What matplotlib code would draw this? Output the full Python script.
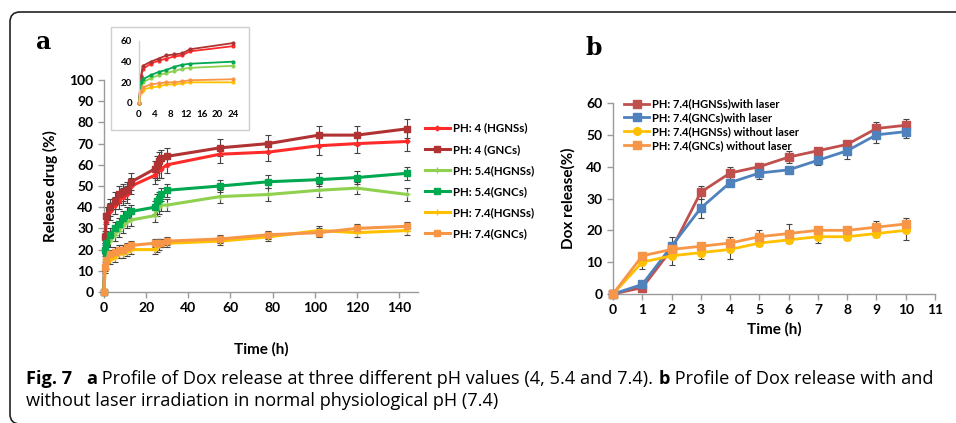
import matplotlib
matplotlib.use('Agg')
import matplotlib.pyplot as plt
from matplotlib.patches import FancyBboxPatch, Rectangle

plt.rcParams['font.family'] = ['Lato', 'DejaVu Sans']
plt.rcParams['font.weight'] = 'bold'

# ---- panel a: release at three pH values ----
tiempo_a = [0, 0.5, 1, 3, 5, 7, 9, 11, 13, 24, 25, 26, 27, 30, 55, 78, 102, 120, 144]
ph4_hgns = [0, 25, 33, 38, 41, 43, 45, 46, 50, 55, 57, 58, 58, 60, 65, 66, 69, 70, 71]
ph4_gnc = [0, 26, 36, 40, 43, 46, 47, 48, 52, 58, 60, 62, 63, 64, 68, 70, 74, 74, 77]
ph54_hgns = [0, 15, 20, 24, 27, 29, 31, 33, 34, 36, 39, 40, 41, 41, 45, 46, 48, 49, 46]
ph54_gnc = [0, 20, 23, 27, 30, 32, 35, 37, 38, 40, 43, 44, 46, 48, 50, 52, 53, 54, 56]
ph74_hgns = [0, 11, 13, 15, 16, 18, 18, 19, 20, 20, 21, 22, 23, 23, 24, 26, 29, 28, 29]
ph74_gnc = [0, 12, 15, 18, 19, 20, 20, 21, 22, 23, 23, 23, 23, 24, 25, 27, 28, 30, 31]
err_ph4 = [0, 3, 4, 4, 4, 4, 4, 4, 4, 4, 4, 4, 4, 4, 4, 4, 4.5, 4.5, 4.5]
err_ph54 = [0, 3, 3, 3, 3, 3, 3, 3, 3, 3, 3, 3, 3, 3, 3, 3, 3, 3, 3]
err_ph74 = [0, 2, 2, 2, 2, 2, 2, 2, 2, 2, 2, 2, 2, 2, 2, 2, 2, 2, 2]

# ---- panel b: with / without laser at pH 7.4 ----
tiempo_b = [0, 1, 2, 3, 4, 5, 6, 7, 8, 9, 10]
hgns_laser = [0, 2, 14, 32, 38, 40, 43, 45, 47, 52, 53]
gnc_laser = [0, 3, 15, 27, 35, 38, 39, 42, 45, 50, 51]
hgns_sin = [0, 10, 12, 13, 14, 16, 17, 18, 18, 19, 20]
gnc_sin = [0, 12, 14, 15, 16, 18, 19, 20, 20, 21, 22]
err_hgns_laser = [0, 1, 2, 2, 2, 1, 2, 1, 1, 2, 2]
err_gnc_laser = [0, 1, 3, 3, 1, 2, 1, 1.5, 2.5, 2.5, 2]
err_hgns_sin = [0, 2, 3, 2, 3, 1, 1, 2, 1, 1, 3]
err_gnc_sin = [0, 1, 1, 1, 2, 2, 3, 1, 1, 2, 2]

W, H = 956, 423
fig = plt.figure(figsize=(W / 100, H / 100), dpi=100)


def px(x0, y0, x1, y1):
    # caja en pixeles (origen arriba a la izquierda) -> fracciones de figura
    return [x0 / W, 1 - y1 / H, (x1 - x0) / W, (y1 - y0) / H]


def estilo(ax):
    for s in ['top', 'right']:
        ax.spines[s].set_visible(False)
    for s in ['left', 'bottom']:
        ax.spines[s].set_color('#9a9a9a')
        ax.spines[s].set_linewidth(1)
    ax.tick_params(colors='#9a9a9a', labelcolor='black', length=4, width=1)
    for lab in ax.get_xticklabels() + ax.get_yticklabels():
        lab.set_fontweight('bold')


# marco redondeado
marco = FancyBboxPatch((10, -1), 1000, 412, boxstyle='round,pad=0,rounding_size=10',
                       transform=None, fill=False, edgecolor='#222222', linewidth=1.2)
fig.patches.append(marco)

series_a = [
    ('PH: 4 (HGNSs)', ph4_hgns, err_ph4, '#ff2a2a', 'D', 2.5),
    ('PH: 4 (GNCs)', ph4_gnc, err_ph4, '#b03232', 's', 5),
    ('PH: 5.4(HGNSs)', ph54_hgns, err_ph54, '#8fd14f', '+', 4),
    ('PH: 5.4(GNCs)', ph54_gnc, err_ph54, '#00a84f', 's', 5),
    ('PH: 7.4(HGNSs)', ph74_hgns, err_ph74, '#ffc000', '+', 4),
    ('PH: 7.4(GNCs)', ph74_gnc, err_ph74, '#f79646', 's', 5),
]

ax = fig.add_axes(px(104, 80, 418, 292))
handles = []
for nombre, vals, err, col, mk, ms in series_a:
    ax.errorbar(tiempo_a, vals, yerr=err, fmt='none', ecolor='#444444',
                elinewidth=0.8, capsize=2.5, capthick=0.8, zorder=2, clip_on=False)
    h, = ax.plot(tiempo_a, vals, color=col, lw=2.2, marker=mk, ms=ms,
                 mec=col, mfc=col, zorder=3, clip_on=False)
    handles.append(h)
ax.set_xlim(0, 149)
ax.set_ylim(0, 100)
ax.set_xticks(range(0, 141, 20))
ax.set_yticks(range(0, 101, 10))
ax.tick_params(labelsize=10)
estilo(ax)
ax.set_xlabel('Time (h)', fontsize=11, fontweight='bold', labelpad=20)
ax.set_ylabel('Release drug (%)', fontsize=11, fontweight='bold', labelpad=8)
fig.legend(handles, [s[0] for s in series_a], loc='upper left',
           bbox_to_anchor=(420 / W, 1 - 118 / H), frameon=False,
           prop={'weight': 'bold', 'size': 8.3}, handlelength=2.2,
           handletextpad=0.3, labelspacing=0.88, borderaxespad=0)

# recuadro del inset
fig.patches.append(Rectangle((111 / W, 1 - 130 / H), 138 / W, 103 / H,
                             transform=fig.transFigure, fill=False,
                             edgecolor='#cfcfcf', linewidth=1))
ins = fig.add_axes(px(139, 41, 233, 103))
n24 = tiempo_a.index(24) + 1
for nombre, vals, err, col, mk, ms in series_a:
    ins.plot(tiempo_a[:n24], vals[:n24], color=col, lw=1.3, marker='o', ms=2,
             clip_on=False)
ins.set_xlim(0, 24)
ins.set_ylim(0, 60)
ins.set_xticks(range(0, 25, 4))
ins.set_yticks(range(0, 61, 20))
estilo(ins)
ins.spines['bottom'].set_visible(False)
ins.spines['left'].set_color('#d0d0d0')
ins.tick_params(length=0, labelsize=7, pad=5)

# ---- panel b ----
series_b = [
    ('PH: 7.4(HGNSs)with laser', hgns_laser, err_hgns_laser, '#c0504d', 's'),
    ('PH: 7.4(GNCs)with laser', gnc_laser, err_gnc_laser, '#4f81bd', 's'),
    ('PH: 7.4(HGNSs) without laser', hgns_sin, err_hgns_sin, '#ffc000', 'o'),
    ('PH: 7.4(GNCs) without laser', gnc_sin, err_gnc_sin, '#f79646', 's'),
]
bx = fig.add_axes(px(613, 103, 935, 294))
hb = []
for nombre, vals, err, col, mk in series_b:
    bx.errorbar(tiempo_b, vals, yerr=err, fmt='none', ecolor='#444444',
                elinewidth=0.8, capsize=2.5, capthick=0.8, zorder=2, clip_on=False)
    h, = bx.plot(tiempo_b, vals, color=col, lw=2, marker=mk, ms=5.5,
                 zorder=3, clip_on=False)
    hb.append(h)
bx.set_xlim(0, 11)
bx.set_ylim(0, 60)
bx.set_xticks(range(0, 12))
bx.set_yticks(range(0, 61, 10))
bx.tick_params(labelsize=10)
estilo(bx)
bx.set_xlabel('Time (h)', fontsize=11, fontweight='bold', labelpad=4)
bx.set_ylabel('Dox release(%)', fontsize=11, fontweight='bold', labelpad=8)
bx.legend(hb, [s[0] for s in series_b], loc='upper left',
          bbox_to_anchor=(620 / W, 1 - 94 / H), bbox_transform=fig.transFigure,
          frameon=False, prop={'weight': 'bold', 'size': 8}, handlelength=2.2,
          handletextpad=0.3, labelspacing=0.25, borderaxespad=0)

# letras de panel
fig.text(36 / W, 1 - 42 / H, 'a', fontsize=17, fontweight='bold',
         family='DejaVu Serif', va='center')
fig.text(585 / W, 1 - 48 / H, 'b', fontsize=17, fontweight='bold',
         family='DejaVu Serif', va='center')

# pie de figura con tramos en negrita
fig.canvas.draw()
ren = fig.canvas.get_renderer()


def renglon(tramos, x, y):
    for txt, peso in tramos:
        t = fig.text(x / W, 1 - y / H, txt, fontsize=13.1, fontweight=peso,
                     family=['Open Sans', 'DejaVu Sans'], va='baseline')
        x += t.get_window_extent(ren).width


renglon([('Fig. 7', 'bold'), ('   ', 'normal'), ('a', 'bold'),
         (' Profile of Dox release at three different pH values (4, 5.4 and 7.4). ', 'normal'),
         ('b', 'bold'), (' Profile of Dox release with and', 'normal')], 26, 384)
renglon([('without laser irradiation in normal physiological pH (7.4)', 'normal')], 26, 406)

plt.savefig('out.png', dpi=100)
